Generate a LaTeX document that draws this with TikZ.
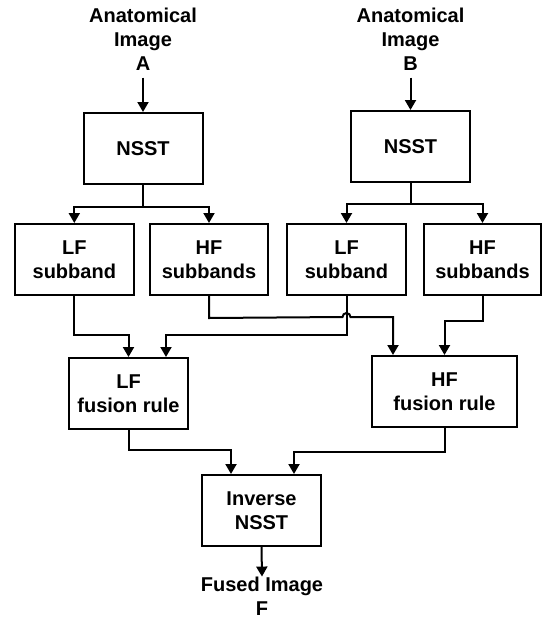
\documentclass[tikz,border=0pt]{standalone}
\usepackage{fontspec}
\setmainfont{Liberation Sans}
\usetikzlibrary{arrows.meta}
\begin{document}
\begin{tikzpicture}[x=1pt,y=-1pt,
  txt/.style={font=\fontsize{20}{24}\selectfont\bfseries},
  box/.style={txt, draw, line width=2pt, minimum height=71pt, inner sep=0pt, align=center},
  lbl/.style={txt, align=center, inner sep=0pt},
  ln/.style={line width=2pt},
  arr/.style={ln, -{Triangle[length=10pt,width=11pt]}}]
\useasboundingbox (0,0) rectangle (542,619);
% input labels
\node[lbl, outer ysep=7pt] (inA) at (143,39.3) {Anatomical\\Image\\A};
\node[lbl, outer ysep=7pt] (inB) at (410.5,39.3) {Anatomical\\Image\\B};
% boxes
\node[box, minimum width=119pt] (nsstA) at (143,148.5) {NSST};
\node[box, minimum width=118.5pt] (nsstB) at (410.5,146.5) {NSST};
\node[box, minimum width=119.5pt] (lfA) at (74.3,259.5) {LF\\subband};
\node[box, minimum width=118pt] (hfA) at (209,259.5) {HF\\subbands};
\node[box, minimum width=119pt] (lfB) at (346.5,259.5) {LF\\subband};
\node[box, minimum width=117pt] (hfB) at (482.5,259.5) {HF\\subbands};
\node[box, minimum width=119pt] (lfF) at (128.5,393.5) {LF\\fusion rule};
\node[box, minimum width=145pt] (hfF) at (444.5,391.5) {HF\\fusion rule};
\node[box, minimum width=119pt] (inv) at (261.5,510.5) {Inverse\\NSST};
\node[lbl] (out) at (262,596) {Fused Image\\F};
% connectors
\draw[arr] (inA.south) -- (nsstA.north);
\draw[arr] (inB.south) -- (nsstB.north);
\draw[arr] (nsstA.south) -- ++(0,22) -| (lfA.north);
\draw[arr] (nsstA.south) -- ++(0,22) -| (hfA.north);
\draw[arr] (nsstB.south) -- ++(0,21) -| (lfB.north);
\draw[arr] (nsstB.south) -- ++(0,21) -| (hfB.north);
\draw[arr] (lfA.south) -- ++(0,39) -| (lfF.north);
\draw[arr] (lfB.south) -- ++(0,39) -| ([xshift=37.5pt]lfF.north);
\draw[arr] (hfA.south) -- ++(0,22) -- (342.5,317) arc[start angle=180,end angle=0,radius=4pt] -| ([xshift=-51.5pt]hfF.north);
\draw[arr] (hfB.south) -- ++(0,25) -| (hfF.north);
\draw[arr] (lfF.south) -- ++(0,20) -| ([xshift=-30.5pt]inv.north);
\draw[arr] (hfF.south) -- ++(0,24) -| ([xshift=32.5pt]inv.north);
\draw[arr] (inv.south) -- (out.north);
\end{tikzpicture}
\end{document}
